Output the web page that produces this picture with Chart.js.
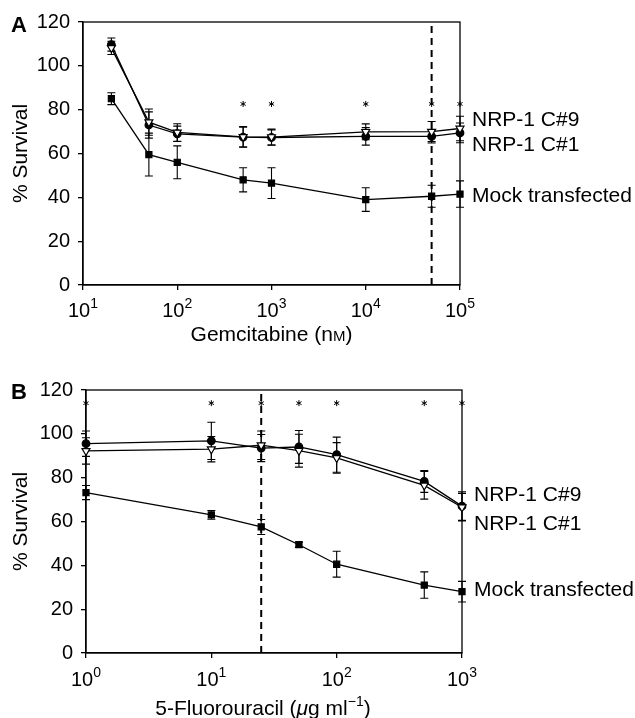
<!DOCTYPE html>
<html>
<head>
<meta charset="utf-8">
<script src="https://cdn.jsdelivr.net/npm/chart.js@4.4.1/dist/chart.umd.min.js"></script>
<style>
	body { margin: 0; background: #fff; }
	canvas { display: block; }
</style>
</head>
<body>
<canvas id="chartA" width="635" height="350"></canvas>
<canvas id="chartB" width="635" height="368"></canvas>
<script>
const FONT = '"Liberation Sans", Arial, Helvetica, sans-serif';

// Panel A - gemcitabine (nM)
const doseA = [20, 50, 100, 500, 1000, 10000, 50000, 100000];
const c9A = [108.2, 74.3, 69.6, 67.6, 67.5, 69.9, 70, 71.4];
const c9ErrA = [3, 6, 4, 4.7, 3.6, 3.6, 4.6, 5.6];
const c1A = [109.7, 73, 69, 67.5, 67.3, 67.8, 67.8, 69.4];
const c1ErrA = [3, 6, 3.5, 4.5, 3.5, 4, 3, 4.5];
const mockA = [85, 59.5, 56, 48, 46.5, 39, 40.5, 41.5];
const mockErrA = [2.7, 9.8, 7.5, 5.5, 7, 5.4, 5, 6];
const starsA = [500, 1000, 10000, 50000, 100000];
const decadesA = [10, 100, 1000, 10000, 100000];
const cutoffA = 50000;

// Panel B - 5-fluorouracil (ug/ml)
const doseB = [1, 10, 25, 50, 100, 500, 1000];
const c9B = [92.2, 93, 94.8, 92.3, 89, 76.5, 66.5];
const c9ErrB = [6, 5.8, 6.5, 7.5, 7, 6.3, 6.3];
const c1B = [95.5, 96.8, 93.5, 94, 90.5, 78.3, 67];
const c1ErrB = [5.8, 8.5, 6.2, 7.5, 8, 5, 6.5];
const mockB = [73.2, 63, 57.5, 49.4, 40.5, 31, 28];
const mockErrB = [3.2, 2, 3.4, 1.2, 5.9, 6, 4.7];
const starsB = [1, 10, 25, 50, 100, 500, 1000];
const decadesB = [1, 10, 100, 1000];
const cutoffB = 25;

const seriesNames = ['NRP-1 C#9', 'NRP-1 C#1', 'Mock transfected'];
const yMin = 0, yMax = 120, yStep = 20;

const fontOf = p => `${p.italic ? 'italic ' : ''}${p.size || 21}px ${FONT}`;

// draws a run of text pieces (superscripts, small caps) centred on cx
const drawRich = (ctx, parts, cx, baseY) => {
	const widths = parts.map(p => { ctx.font = fontOf(p); return ctx.measureText(p.t).width; });
	let xx = cx - widths.reduce((s, w) => s + w, 0) / 2;
	parts.forEach((p, k) => {
		ctx.font = fontOf(p);
		ctx.fillText(p.t, xx, baseY - (p.raise || 0));
		xx += widths[k];
	});
};

const extras = {
	id: 'extras',
	beforeDatasetsDraw(chart) {
		const {ctx, chartArea: a, scales: {y}} = chart;
		ctx.save();
		ctx.strokeStyle = '#000';
		ctx.lineWidth = 1.3;
		ctx.strokeRect(a.left, a.top, a.right - a.left, a.bottom - a.top);
		ctx.lineWidth = 1.1;
		chart.data.datasets.forEach((ds, i) => {
			if (!ds.err) return;
			chart.getDatasetMeta(i).data.forEach((pt, j) => {
				const v = ds.data[j].y, e = ds.err[j];
				const top = y.getPixelForValue(v + e), bot = y.getPixelForValue(v - e);
				ctx.beginPath();
				ctx.moveTo(pt.x, top); ctx.lineTo(pt.x, bot);
				ctx.moveTo(pt.x - 4, top); ctx.lineTo(pt.x + 4, top);
				ctx.moveTo(pt.x - 4, bot); ctx.lineTo(pt.x + 4, bot);
				ctx.stroke();
			});
		});
		ctx.restore();
	},
	afterDraw(chart, args, o) {
		const {ctx, chartArea: a, scales: {x, y}} = chart;
		ctx.save();
		ctx.fillStyle = '#000';
		ctx.strokeStyle = '#000';
		ctx.textAlign = 'left';
		ctx.textBaseline = 'alphabetic';

		// x tick labels as powers of ten
		o.decades.forEach(v => {
			drawRich(ctx, [{t: '10', size: 20}, {t: String(Math.round(Math.log10(v))), size: 14, raise: 9}],
				x.getPixelForValue(v), a.bottom + o.tickGap);
		});

		drawRich(ctx, o.title, (a.left + a.right) / 2 + o.titleShift, a.bottom + o.titleGap);

		// significance asterisks
		ctx.lineWidth = 1;
		o.stars.forEach(v => {
			const px = x.getPixelForValue(v), py = y.getPixelForValue(o.starLevel);
			ctx.beginPath();
			[90, 30, 150].forEach(d => {
				const r = d * Math.PI / 180;
				ctx.moveTo(px - 3 * Math.cos(r), py - 3 * Math.sin(r));
				ctx.lineTo(px + 3 * Math.cos(r), py + 3 * Math.sin(r));
			});
			ctx.stroke();
		});

		// series names at right
		ctx.font = `21px ${FONT}`;
		seriesNames.forEach((n, k) => ctx.fillText(n, a.right + 12, y.getPixelForValue(o.nameLevels[k])));

		ctx.font = `bold 22px ${FONT}`;
		ctx.fillText(o.letter, 11, o.letterY);
		ctx.restore();
	}
};

const pointSeries = (data, err, style) => Object.assign({
	data,
	err,
	showLine: true,
	borderColor: '#000',
	borderWidth: 1.3,
	pointBorderColor: '#000',
	pointBorderWidth: 1.2,
	clip: false
}, style);

const makeChart = (id, p) => {
	const pts = ys => p.dose.map((d, i) => ({x: d, y: ys[i]}));
	return new Chart(document.getElementById(id), {
		type: 'scatter',
		data: {
			datasets: [
				pointSeries(pts(p.c9), p.c9Err, {pointStyle: 'triangle', rotation: 180, pointRadius: 4.6, pointBackgroundColor: '#fff'}),
				pointSeries(pts(p.c1), p.c1Err, {pointStyle: 'circle', pointRadius: 3.8, pointBackgroundColor: '#000'}),
				pointSeries(pts(p.mock), p.mockErr, {pointStyle: 'rect', pointRadius: 4.3, pointBackgroundColor: '#000'}),
				{
					data: [{x: p.cutoff, y: yMin}, {x: p.cutoff, y: yMax}],
					showLine: true,
					borderColor: '#000',
					borderWidth: 2,
					borderDash: [7, 5],
					pointRadius: 0
				}
			]
		},
		options: {
			responsive: false,
			animation: false,
			layout: {padding: {top: p.top, right: p.right, left: 0, bottom: 0}},
			scales: {
				x: {
					type: 'logarithmic',
					min: p.decades[0],
					max: p.decades[p.decades.length - 1],
					afterBuildTicks: s => { s.ticks = p.decades.map(v => ({value: v})); },
					afterFit: s => { s.height = p.xHeight; },
					ticks: {display: false},
					grid: {drawOnChartArea: false, drawTicks: true, tickLength: 5, color: '#000', lineWidth: 1.3},
					border: {display: true, color: '#000', width: 1.3}
				},
				y: {
					min: yMin,
					max: yMax,
					afterFit: s => { s.width = p.yWidth; },
					ticks: {stepSize: yStep, color: '#000', padding: 8, font: {family: FONT, size: 20}},
					grid: {drawOnChartArea: false, drawTicks: true, tickLength: 5, color: '#000', lineWidth: 1.3},
					border: {display: true, color: '#000', width: 1.3},
					title: {display: true, text: '% Survival', color: '#000', padding: {top: 9, bottom: 0}, font: {family: FONT, size: 21}}
				}
			},
			plugins: {
				legend: {display: false},
				tooltip: {enabled: false},
				extras: p.extras
			}
		},
		plugins: [extras]
	});
};

makeChart('chartA', {
	dose: doseA, c9: c9A, c9Err: c9ErrA, c1: c1A, c1Err: c1ErrA, mock: mockA, mockErr: mockErrA,
	cutoff: cutoffA, decades: decadesA,
	top: 22, right: 175, xHeight: 65, yWidth: 83,
	extras: {
		letter: 'A', letterY: 32,
		decades: decadesA, tickGap: 32,
		title: [{t: 'Gemcitabine (n'}, {t: 'M', size: 15}, {t: ')'}], titleGap: 56, titleShift: 0,
		stars: starsA, starLevel: 82.6,
		nameLevels: [72.5, 61.2, 37.8]
	}
});

makeChart('chartB', {
	dose: doseB, c9: c9B, c9Err: c9ErrB, c1: c1B, c1Err: c1ErrB, mock: mockB, mockErr: mockErrB,
	cutoff: cutoffB, decades: decadesB,
	top: 40, right: 173, xHeight: 65, yWidth: 86,
	extras: {
		letter: 'B', letterY: 49,
		decades: decadesB, tickGap: 33,
		title: [{t: '5-Fluorouracil ('}, {t: '\u03bc', italic: true}, {t: 'g ml'}, {t: '\u22121', size: 14, raise: 9}, {t: ')'}],
		titleGap: 62, titleShift: -11,
		stars: starsB, starLevel: 114,
		nameLevels: [69.4, 56.2, 25.8]
	}
});
</script>
</body>
</html>
